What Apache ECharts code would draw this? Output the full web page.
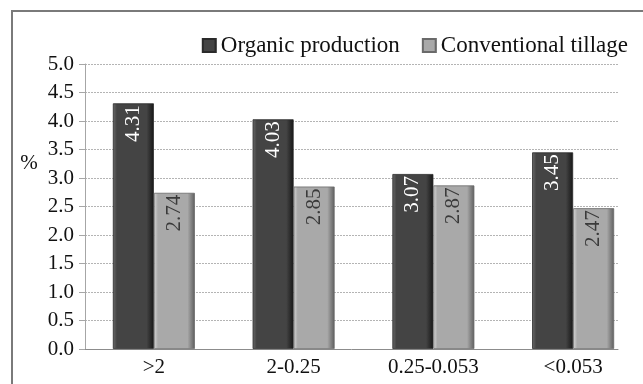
<!DOCTYPE html>
<html>
<head>
<meta charset="utf-8">
<script src="https://cdn.jsdelivr.net/npm/echarts@6/dist/echarts.min.js"></script>
<style>
  html, body { margin: 0; padding: 0; background: #ffffff; }
  #chart { width: 643px; height: 384px; }
</style>
</head>
<body>
<div id="chart"></div>
<script>
// Aggregate size classes (mm) and the share (%) measured for each system
const categories = ['>2', '2-0.25', '0.25-0.053', '<0.053'];
const organicProduction = [4.31, 4.03, 3.07, 3.45];
const conventionalTillage = [2.74, 2.85, 2.87, 2.47];
const yTicks = { min: 0, max: 5, interval: 0.5 };

const FONT = '"Liberation Serif", "Times New Roman", serif';
const INK = '#111111';

// Horizontal gradients give the bars a bevelled look
function bevel(edgeL, mid, edgeR) {
  return new echarts.graphic.LinearGradient(0, 0, 1, 0, [
    { offset: 0, color: edgeL },
    { offset: 0.1, color: mid },
    { offset: 0.82, color: mid },
    { offset: 1, color: edgeR }
  ]);
}

const darkFill = bevel('#6a6a6a', '#444444', '#161616');
const lightFill = bevel('#d6d6d6', '#a9a9a9', '#5e5e5e');

function barLabel(color) {
  return {
    show: true,
    position: 'insideTop',
    distance: 5,
    rotate: 90,
    align: 'right',
    verticalAlign: 'middle',
    offset: [3, 0],
    formatter: p => p.value.toFixed(2),
    fontFamily: FONT,
    fontSize: 21,
    color: color
  };
}

const chart = echarts.init(document.getElementById('chart'), null, { renderer: 'canvas' });

chart.setOption({
  backgroundColor: '#ffffff',
  animation: false,
  legend: {
    right: 10,
    top: 29,
    itemWidth: 13,
    itemHeight: 13,
    itemGap: 22,
    icon: 'rect',
    textStyle: { fontFamily: FONT, fontSize: 23, color: INK },
    data: ['Organic production', 'Conventional tillage']
  },
  grid: [
    // bars
    { left: 84, top: 64, width: 564, height: 285, containLabel: false },
    // axis frame and gridlines
    { left: 85, top: 64, width: 533, height: 285, containLabel: false }
  ],
  xAxis: [
    {
      type: 'category',
      gridIndex: 0,
      data: categories,
      axisLine: { show: false },
      axisTick: { show: false },
      axisLabel: { margin: 8, fontFamily: FONT, fontSize: 21, color: INK }
    },
    {
      type: 'category',
      gridIndex: 1,
      data: categories,
      axisLine: { show: true, lineStyle: { color: '#8c8c8c', width: 1 } },
      axisTick: { show: false },
      axisLabel: { show: false }
    }
  ],
  yAxis: [
    {
      type: 'value',
      gridIndex: 0,
      min: yTicks.min, max: yTicks.max, interval: yTicks.interval,
      show: false
    },
    {
      type: 'value',
      gridIndex: 1,
      min: yTicks.min, max: yTicks.max, interval: yTicks.interval,
      axisLine: { show: true, lineStyle: { color: '#a6a6a6' } },
      axisTick: { show: true, length: 6, inside: false, lineStyle: { color: '#a6a6a6' } },
      axisLabel: {
        margin: 11,
        fontFamily: FONT, fontSize: 21, color: INK,
        formatter: v => v.toFixed(1)
      },
      splitLine: { show: true, lineStyle: { color: '#b4b4b4', type: [2, 1], width: 1 } }
    }
  ],
  graphic: [
    {
      type: 'rect',
      shape: { x: 12, y: 11, width: 700, height: 500 },
      style: { fill: 'none', stroke: '#7a7a7a', lineWidth: 2 },
      silent: true,
      z: 100
    },
    {
      type: 'text',
      x: 29, y: 163,
      style: {
        text: '%', fontFamily: FONT, fontSize: 21, fill: INK,
        textAlign: 'center', textVerticalAlign: 'middle'
      }
    }
  ],
  series: [
    {
      name: 'Organic production',
      type: 'bar',
      xAxisIndex: 0, yAxisIndex: 0,
      data: organicProduction,
      barWidth: 41,
      barGap: '0%',
      itemStyle: { color: darkFill, borderColor: '#2a2a2a', borderWidth: 0.8 },
      label: barLabel('#ffffff')
    },
    {
      name: 'Conventional tillage',
      type: 'bar',
      xAxisIndex: 0, yAxisIndex: 0,
      data: conventionalTillage,
      barWidth: 41,
      barGap: '0%',
      itemStyle: { color: lightFill, borderColor: '#6a6a6a', borderWidth: 0.8 },
      label: barLabel('#3a3a3a')
    }
  ]
});
</script>
</body>
</html>
